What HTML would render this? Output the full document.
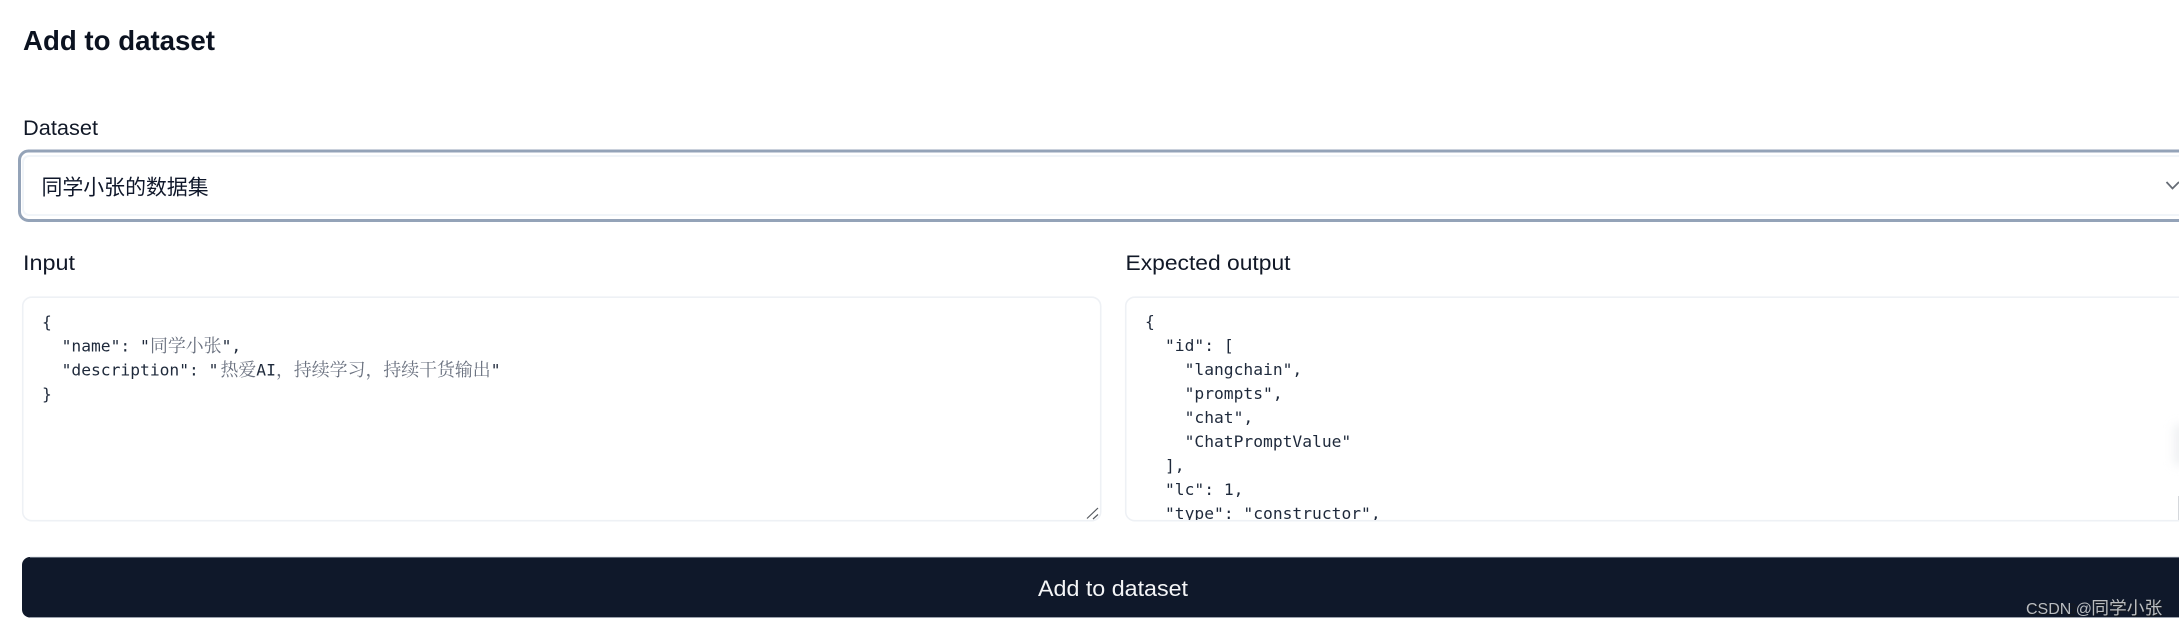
<!DOCTYPE html>
<html lang="zh">
<head>
<meta charset="utf-8">
<title>Add to dataset</title>
<style>
html,body{margin:0;padding:0;background:#fff;width:2179px;height:627px;overflow:hidden}
svg{display:block}
text{white-space:pre}
.sans{font-family:"Liberation Sans","Noto Sans CJK SC",sans-serif}
.lbl{font-family:"Liberation Sans","Noto Sans CJK SC",sans-serif;font-size:21px;fill:#111827}
.mono{font-family:"DejaVu Sans Mono","Noto Serif CJK SC",monospace;font-size:16.3px;fill:#1e293b}
.cjk{font-family:"Noto Serif CJK SC","Noto Sans CJK SC",serif;font-size:17.9px;fill:#6b7280}
</style>
</head>
<body>
<svg width="2179" height="627" viewBox="0 0 2179 627" xmlns="http://www.w3.org/2000/svg">
  <defs>
    <clipPath id="outClip"><rect x="1125" y="297" width="1054" height="223"/></clipPath>
    <linearGradient id="sh" x1="0" x2="1" y1="0" y2="0">
      <stop offset="0" stop-color="#e5e7eb" stop-opacity="0"/>
      <stop offset="1" stop-color="#d9dce0" stop-opacity=".35"/>
    </linearGradient>
    <filter id="bl" x="-100%" y="-50%" width="300%" height="200%"><feGaussianBlur stdDeviation="5"/></filter>
  </defs>
  <rect width="2179" height="627" fill="#ffffff"/>

  <text class="sans" x="23" y="50" font-size="27.5" font-weight="700" fill="#0b1220" textLength="192" lengthAdjust="spacingAndGlyphs">Add to dataset</text>

  <text class="lbl" x="23" y="135" textLength="75" lengthAdjust="spacingAndGlyphs">Dataset</text>

  <!-- select -->
  <rect x="19.5" y="151" width="2200" height="69.5" rx="9" fill="#ffffff" stroke="#94a3b8" stroke-width="3"/>
  <rect x="23" y="156" width="2200" height="59" rx="6" fill="#ffffff" stroke="#f1f5f9" stroke-width="2"/>
  <text x="41.5" y="194.5" font-family="'Noto Sans CJK SC',sans-serif" font-size="20.9" fill="#0f172a">同学小张的数据集</text>
  <polyline points="2166.5,182 2172.5,188.5 2179,182" fill="none" stroke="#666c75" stroke-width="1.8"/>

  <text class="lbl" x="23" y="270" textLength="52" lengthAdjust="spacingAndGlyphs">Input</text>
  <text class="lbl" x="1125.5" y="270" textLength="165" lengthAdjust="spacingAndGlyphs">Expected output</text>

  <!-- input textarea -->
  <rect x="22.7" y="297.2" width="1078" height="223.5" rx="9" fill="#ffffff" stroke="#eef1f5" stroke-width="1.6"/>
  <text class="mono" x="42" y="327.5">{</text>
  <text class="mono" x="61.6" y="351.5">"name": "</text>
  <text class="cjk" x="150" y="352">同学小张</text>
  <text class="mono" x="221.6" y="351.5">",</text>
  <text class="mono" x="61.6" y="375.5">"description": "</text>
  <text class="cjk" x="220.5" y="376">热爱</text>
  <text class="mono" x="256.3" y="375.5">AI</text>
  <text class="cjk" x="276" y="376">，持续学习，持续干货输出</text>
  <text class="mono" x="490.8" y="375.5">"</text>
  <text class="mono" x="42" y="399.5">}</text>
  <g stroke="#55595f" stroke-width="1.2" fill="none">
    <line x1="1087" y1="518.5" x2="1098" y2="508"/>
    <line x1="1093" y1="519" x2="1098" y2="514.5"/>
  </g>

  <!-- output textarea -->
  <rect x="1125.7" y="297.2" width="1100" height="223.5" rx="9" fill="#ffffff" stroke="#eef1f5" stroke-width="1.6"/>
  <g clip-path="url(#outClip)">
    <text class="mono" x="1145" y="327">{</text>
    <text class="mono" x="1165" y="351">"id": [</text>
    <text class="mono" x="1184.6" y="375">"langchain",</text>
    <text class="mono" x="1184.6" y="399">"prompts",</text>
    <text class="mono" x="1184.6" y="423">"chat",</text>
    <text class="mono" x="1184.6" y="447">"ChatPromptValue"</text>
    <text class="mono" x="1165" y="471">],</text>
    <text class="mono" x="1165" y="495">"lc": 1,</text>
    <text class="mono" x="1165" y="519">"type": "constructor",</text>
  </g>
  <rect x="2174" y="425" width="14" height="40" fill="#dfe2e6" opacity=".5" filter="url(#bl)"/>
  <line x1="2178.5" y1="496" x2="2178.5" y2="520" stroke="#d5d8dc" stroke-width="1"/>

  <!-- button -->
  <rect x="22" y="557" width="2200" height="60.5" rx="8" fill="#0f182a"/>
  <line x1="30" y1="557.3" x2="2179" y2="557.3" stroke="#7b8492" stroke-width=".8"/>
  <line x1="30" y1="617.4" x2="2179" y2="617.4" stroke="#7b8492" stroke-width=".8"/>
  <text class="sans" x="1038" y="596" font-size="22" fill="#f4f5f7" textLength="150" lengthAdjust="spacingAndGlyphs">Add to dataset</text>

  <!-- watermark -->
  <text class="sans" x="2026.8" y="615" font-size="16" fill="#1a1a1a" opacity=".7" textLength="51" lengthAdjust="spacingAndGlyphs">CSDN @</text>
  <text x="2092" y="615" font-family="'Noto Sans CJK SC',sans-serif" font-size="17.8" fill="#1a1a1a" opacity=".7">同学小张</text>
  <text class="sans" x="2026" y="614" font-size="16" fill="#b9bcc0" textLength="66" lengthAdjust="spacingAndGlyphs">CSDN @</text>
  <text x="2091.2" y="614" font-family="'Noto Sans CJK SC',sans-serif" font-size="17.8" fill="#b9bcc0">同学小张</text>
</svg>
</body>
</html>
